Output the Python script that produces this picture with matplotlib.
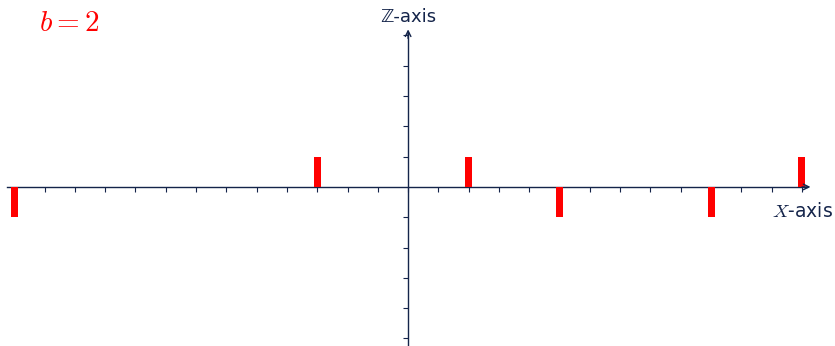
import matplotlib.pyplot as plt
import numpy as np

plt.rcParams['mathtext.fontset'] = 'cm'

# Impulse positions and signs
positions = [-13, -3, 2, 5, 10, 13]
values = [-1, 1, 1, -1, -1, 1]

x_ticks = np.arange(-13, 14)
y_ticks = np.arange(-5, 6)

axis_color = '#14244a'

fig = plt.figure(figsize=(8.35, 3.46), dpi=100)
ax = fig.add_axes([0, 0, 1, 1])
ax.set_xlim(-13.47, 14.09)
ax.set_ylim(-5.25, 6.17)

ax.bar(positions, values, width=0.23, color='red', zorder=3)

# axes through the origin
for side in ['top', 'right']:
    ax.spines[side].set_visible(False)
ax.spines['bottom'].set_position(('data', 0))
ax.spines['left'].set_position(('data', 0))
ax.spines['bottom'].set_bounds(-13.25, 13.15)
ax.spines['left'].set_bounds(-5.3, 5.1)
for side in ['bottom', 'left']:
    ax.spines[side].set_color(axis_color)
    ax.spines[side].set_linewidth(1.0)

ax.set_xticks(x_ticks)
ax.set_yticks(y_ticks[y_ticks != 0])
ax.tick_params(axis='both', direction='out', length=3.5, width=0.8,
               color=axis_color, labelbottom=False, labelleft=False)

# arrow heads
ax.annotate('', xy=(13.28, 0), xytext=(13.0, 0),
            arrowprops=dict(arrowstyle='->', color=axis_color, lw=1.0,
                            shrinkA=0, shrinkB=0))
ax.annotate('', xy=(0, 5.2), xytext=(0, 4.9),
            arrowprops=dict(arrowstyle='->', color=axis_color, lw=1.0,
                            shrinkA=0, shrinkB=0))

ax.text(0, 5.6, '\u2124-axis', ha='center', va='center', fontsize=13,
        color=axis_color)
ax.text(13.02, -0.8, r'$X$-axis', ha='center', va='center', fontsize=13.5,
        color=axis_color)
ax.text(-11.2, 5.42, r'$b = 2$', ha='center', va='center', fontsize=21,
        color='red')

fig.savefig('out.png', dpi=100)
